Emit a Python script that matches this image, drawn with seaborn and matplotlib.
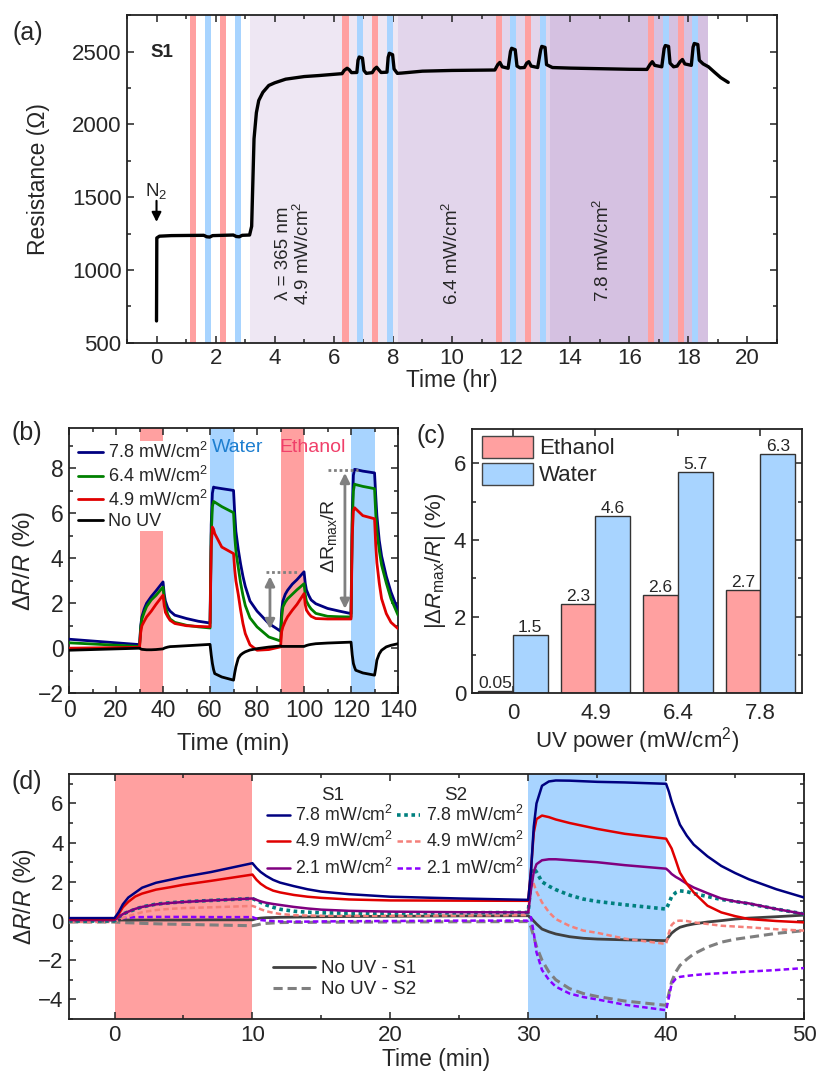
import numpy as np
import pandas as pd
import matplotlib
matplotlib.use("Agg")
import matplotlib.pyplot as plt
import seaborn as sns
from matplotlib.lines import Line2D
from matplotlib.patches import Patch
from matplotlib.ticker import MultipleLocator

# ---------------- Panel (a) data ----------------
A_TIME = [0, 0.01, 0.1, 0.5, 1.0, 1.6, 1.7, 1.8, 1.9, 2.6, 2.7, 2.8, 2.9, 3.15,
          3.22, 3.26, 3.3, 3.38, 3.46, 3.6, 3.8, 4.0, 4.37, 5.0, 5.5, 6.28,
          6.35, 6.45, 6.52, 6.6, 6.78, 6.82, 6.86, 6.97, 7.02, 7.1, 7.3,
          7.38, 7.45, 7.52, 7.6, 7.8, 7.84, 7.88, 7.99, 8.04, 8.15, 8.3, 9.0, 10.0, 11.0, 11.45,
          11.55, 11.62, 11.7, 11.9, 11.98, 12.02, 12.14, 12.2, 12.3, 12.45,
          12.53, 12.6, 12.68, 12.9, 13.0, 13.04, 13.15, 13.2, 13.4, 14.0, 15.0, 16.0, 16.6,
          16.7, 16.78, 16.86, 17.1, 17.18, 17.22, 17.33, 17.38, 17.5, 17.62,
          17.72, 17.8, 17.88, 18.1, 18.16, 18.2, 18.32, 18.37, 18.5, 18.68, 18.9, 19.1, 19.35]
A_RES = [650, 1220, 1232, 1236, 1237, 1238, 1228, 1226, 1236, 1240, 1230, 1228, 1238, 1240,
         1300, 1600, 1900, 2080, 2164, 2220, 2267, 2285, 2310, 2328, 2335, 2348,
         2370, 2385, 2375, 2355, 2356, 2440, 2462, 2455, 2370, 2350, 2355,
         2380, 2392, 2375, 2356, 2358, 2460, 2488, 2478, 2380, 2350, 2352, 2365, 2370, 2372, 2373,
         2410, 2425, 2395, 2385, 2500, 2522, 2512, 2400, 2388, 2390,
         2420, 2430, 2400, 2390, 2510, 2535, 2528, 2410, 2390, 2386, 2382, 2378, 2377,
         2410, 2430, 2405, 2395, 2520, 2541, 2535, 2420, 2395, 2400,
         2430, 2445, 2415, 2405, 2530, 2555, 2548, 2440, 2415, 2395, 2355, 2320, 2288]
A_ETHANOL_BANDS = [(1.12, 1.32), (2.14, 2.34), (6.28, 6.52), (7.30, 7.50),
                   (11.48, 11.68), (12.46, 12.67), (16.64, 16.84), (17.66, 17.86)]
A_WATER_BANDS = [(1.63, 1.83), (2.65, 2.85), (6.79, 6.99), (7.81, 8.01),
                 (11.95, 12.16), (12.97, 13.17), (17.15, 17.35), (18.13, 18.34)]
A_UV_REGIONS = [(3.16, 8.18), (8.18, 13.31), (13.31, 18.68)]

# ---------------- Panel (b) data ----------------
B_TIME = [0, 30,
          30.5, 31, 32, 33, 35, 37, 40,
          40.5, 41, 42, 43, 45, 50, 55, 60,
          60.5, 61, 61.5, 62, 65, 70,
          70.5, 71, 72, 73, 74, 75, 77, 80, 85, 90,
          90.5, 91, 92, 93, 95, 97, 100,
          100.5, 101, 102, 103, 105, 110, 115, 120,
          120.5, 121, 121.5, 122, 125, 130,
          130.5, 131, 132, 133, 135, 137, 140]
B_78 = [0.40, 0.16,
        1.0, 1.4, 1.75, 2.0, 2.3, 2.55, 2.95,
        2.4, 2.1, 1.8, 1.65, 1.47, 1.32, 1.2, 1.12,
        5.5, 6.9, 7.17, 7.15, 7.1, 7.02,
        6.0, 5.2, 4.4, 3.75, 3.2, 2.75, 2.1, 1.65, 1.1, 0.76,
        1.7, 2.1, 2.4, 2.58, 2.85, 3.05, 3.4,
        2.9, 2.6, 2.35, 2.15, 1.98, 1.77, 1.65, 1.54,
        6.0, 7.7, 7.96, 7.95, 7.88, 7.8,
        6.8, 5.9, 4.8, 4.1, 3.2, 2.5, 1.69]
B_64 = [0.24, 0.08,
        0.9, 1.3, 1.6, 1.85, 2.15, 2.35, 2.72,
        2.2, 1.85, 1.5, 1.3, 1.15, 1.02, 0.95, 0.9,
        5.0, 6.3, 6.53, 6.5, 6.3, 6.03,
        5.0, 4.3, 3.6, 2.9, 2.35, 1.9, 1.35, 0.95, 0.5, 0.32,
        1.4, 1.84, 2.05, 2.2, 2.4, 2.6, 2.87,
        2.4, 2.1, 1.9, 1.75, 1.55, 1.42, 1.4, 1.39,
        5.5, 7.0, 7.3, 7.28, 7.2, 7.1,
        6.0, 5.2, 4.36, 3.7, 2.9, 2.2, 1.47]
B_49 = [0.0, 0.04,
        0.7, 1.0, 1.2, 1.39, 1.65, 1.95, 2.36,
        1.9, 1.6, 1.4, 1.24, 1.1, 1.0, 0.97, 0.95,
        4.5, 5.39, 5.3, 5.1, 4.5, 4.21,
        3.5, 3.0, 2.4, 1.7, 1.1, 0.65, 0.15, -0.09, -0.06, 0.06,
        0.75, 0.95, 1.2, 1.4, 1.69, 1.95, 2.43,
        1.95, 1.7, 1.54, 1.42, 1.32, 1.3, 1.3, 1.3,
        5.0, 6.1, 6.25, 6.2, 5.9, 5.76,
        4.6, 3.8, 2.9, 2.2, 1.54, 1.15, 0.87]
B_NOUV = [-0.09, 0.0,
          -0.03, -0.05, -0.06, -0.07, -0.07, -0.06, -0.03,
          0.0, 0.02, 0.05, 0.07, 0.08, 0.11, 0.14, 0.17,
          -0.3, -0.68, -0.95, -1.13, -1.28, -1.42,
          -1.1, -0.83, -0.45, -0.3, -0.22, -0.16, -0.08, -0.02, 0.05, 0.1,
          0.08, 0.08, 0.08, 0.08, 0.08, 0.08, 0.08,
          0.1, 0.12, 0.15, 0.17, 0.2, 0.23, 0.25, 0.27,
          -0.3, -0.68, -0.85, -0.98, -1.1, -1.2,
          -0.9, -0.53, -0.25, -0.09, 0.06, 0.13, 0.2]
B_LABELS = ["7.8 mW/cm$^2$", "6.4 mW/cm$^2$", "4.9 mW/cm$^2$", "No UV"]
B_ETHANOL_BANDS = [(30, 40), (90, 100)]
B_WATER_BANDS = [(60, 70), (120, 130)]

# ---------------- Panel (c) data ----------------
C_POWER = ["0", "4.9", "6.4", "7.8"]
C_ETHANOL = [0.05, 2.33, 2.57, 2.70]
C_WATER = [1.52, 4.62, 5.77, 6.25]
C_ETHANOL_LABELS = ["0.05", "2.3", "2.6", "2.7"]
C_WATER_LABELS = ["1.5", "4.6", "5.7", "6.3"]

# ---------------- Panel (d) data ----------------
D_TIME = [-3.3, 0,
          0.3, 0.6, 1, 1.5, 2, 3, 4, 5, 7, 10,
          10.3, 10.6, 11, 11.5, 12, 13, 14, 15, 17, 20, 25, 30,
          30.2, 30.4, 30.6, 31, 31.5, 32, 33, 34, 35, 37, 40,
          40.2, 40.4, 40.7, 41, 41.5, 42, 43, 44, 45, 46, 48, 50]
D_S1_78 = [0.15, 0.15,
           0.45, 0.85, 1.2, 1.45, 1.7, 1.95, 2.1, 2.25, 2.5, 2.95,
           2.7, 2.5, 2.3, 2.1, 1.96, 1.78, 1.62, 1.5, 1.37, 1.24, 1.15, 1.08,
           2.5, 4.8, 6.0, 6.9, 7.12, 7.17, 7.16, 7.13, 7.1, 7.07, 7.0,
           6.6, 6.1, 5.5, 4.92, 4.35, 3.9, 3.3, 2.81, 2.45, 2.13, 1.62, 1.2]
D_S1_49 = [0.1, 0.1,
           0.35, 0.7, 0.98, 1.25, 1.4, 1.6, 1.72, 1.85, 2.05, 2.37,
           2.1, 1.9, 1.71, 1.55, 1.46, 1.33, 1.24, 1.18, 1.1, 1.05, 1.04, 1.03,
           2.6, 4.5, 5.2, 5.38, 5.3, 5.18, 5.0, 4.85, 4.7, 4.45, 4.2,
           3.95, 3.7, 3.1, 2.47, 1.9, 1.46, 0.78, 0.44, 0.25, 0.1, 0.0, -0.07]
D_S1_21 = [0.05, 0.05,
           0.2, 0.35, 0.48, 0.62, 0.72, 0.85, 0.92, 0.97, 1.05, 1.15,
           1.08, 1.0, 0.93, 0.87, 0.82, 0.72, 0.64, 0.58, 0.52, 0.48, 0.45, 0.44,
           1.6, 2.5, 2.9, 3.1, 3.15, 3.15, 3.1, 3.05, 3.0, 2.85, 2.67,
           2.55, 2.4, 2.25, 2.13, 1.9, 1.71, 1.42, 1.15, 1.0, 0.9, 0.61, 0.36]
D_S2_78 = [0.0, 0.0,
           0.2, 0.35, 0.47, 0.6, 0.72, 0.86, 0.93, 0.98, 1.05, 1.15,
           1.05, 0.95, 0.82, 0.7, 0.6, 0.5, 0.45, 0.42, 0.4, 0.4, 0.42, 0.44,
           2.0, 2.7, 2.5, 2.0, 1.78, 1.6, 1.32, 1.12, 1.0, 0.83, 0.61,
           0.9, 1.25, 1.45, 1.54, 1.5, 1.4, 1.25, 1.1, 1.0, 0.88, 0.61, 0.36]
D_S2_49 = [-0.05, -0.05,
           0.05, 0.15, 0.25, 0.35, 0.45, 0.56, 0.62, 0.66, 0.7, 0.77,
           0.7, 0.6, 0.5, 0.42, 0.36, 0.3, 0.28, 0.27, 0.27, 0.27, 0.28, 0.3,
           2.25, 1.9, 1.5, 0.95, 0.45, 0.1, -0.25, -0.49, -0.6, -0.9, -1.17,
           -0.6, -0.2, 0.0, 0.02, 0.0, -0.07, -0.15, -0.24, -0.28, -0.32, -0.42, -0.49]
D_S2_21 = [0.0, 0.0,
           0.1, 0.15, 0.17, 0.2, 0.2, 0.21, 0.21, 0.21, 0.2, 0.2,
           0.12, 0.05, 0.02, 0.0, -0.02, -0.03, -0.03, -0.02, -0.01, 0.0, 0.02, 0.02,
           0.2, -0.6, -1.6, -2.5, -3.0, -3.35, -3.7, -3.88, -4.0, -4.27, -4.55,
           -3.9, -3.2, -2.95, -2.85, -2.8, -2.76, -2.7, -2.66, -2.62, -2.58, -2.5, -2.4]
D_NOUV_S1 = [0.05, 0.05,
             0.05, 0.05, 0.05, 0.05, 0.05, 0.05, 0.05, 0.05, 0.06, 0.06,
             0.12, 0.15, 0.17, 0.18, 0.19, 0.2, 0.21, 0.22, 0.23, 0.24, 0.26, 0.27,
             0.15, 0.0, -0.15, -0.41, -0.55, -0.66, -0.8, -0.88, -0.92, -0.96, -1.0,
             -0.8, -0.62, -0.45, -0.32, -0.22, -0.15, -0.05, 0.02, 0.1, 0.15, 0.22, 0.3]
D_NOUV_S2 = [-0.05, -0.05,
             -0.06, -0.08, -0.09, -0.1, -0.12, -0.14, -0.16, -0.17, -0.2, -0.24,
             -0.2, -0.15, -0.12, -0.1, -0.08, -0.07, -0.07, -0.06, -0.06, -0.05, -0.04, -0.03,
             -0.3, -0.8, -1.3, -2.0, -2.6, -3.0, -3.45, -3.7, -3.85, -4.08, -4.3,
             -3.7, -3.1, -2.6, -2.27, -1.95, -1.68, -1.33, -1.08, -0.93, -0.83, -0.63, -0.49]
D_POWER_LABELS = ["7.8 mW/cm$^2$", "4.9 mW/cm$^2$", "2.1 mW/cm$^2$"]
D_ETHANOL_BAND = (0, 10)
D_WATER_BAND = (30, 40)

# ---------------- styling ----------------
ETH_C = "#FFA0A0"
WAT_C = "#A8D4FF"
UV_COLORS = ["#EEE7F3", "#E2D5EB", "#D5C1E1"]

sns.set_theme(style="ticks")
plt.rcParams['font.family'] = ['Liberation Sans', 'DejaVu Sans']
plt.rcParams['mathtext.fontset'] = 'custom'
plt.rcParams['mathtext.rm'] = 'Liberation Sans'
plt.rcParams['mathtext.it'] = 'Liberation Sans:italic'
plt.rcParams['mathtext.bf'] = 'Liberation Sans:bold'
plt.rcParams['axes.linewidth'] = 1.3
plt.rcParams['axes.edgecolor'] = '#222222'

fig = plt.figure(figsize=(8.16, 10.78), dpi=100)


def style_axes(ax, fs):
    ax.tick_params(which='both', direction='in', top=True, right=True,
                   labelsize=fs, color='#222222', width=1.1, pad=4)
    ax.tick_params(which='major', length=5)
    ax.tick_params(which='minor', length=3)
    for s in ax.spines.values():
        s.set_linewidth(1.3)
        s.set_color('#222222')


def draw(ax, x, y, **kw):
    sns.lineplot(x=x, y=y, ax=ax, estimator=None, sort=False, **kw)
    return ax.lines[-1]


# ================= Panel (a) =================
axA = fig.add_axes([0.1556, 0.682, 0.7966, 0.304])
for (s, e), c in zip(A_UV_REGIONS, UV_COLORS):
    axA.axvspan(s, e, color=c, lw=0, zorder=0)
for s, e in A_ETHANOL_BANDS:
    axA.axvspan(s, e, color=ETH_C, lw=0, zorder=1)
for s, e in A_WATER_BANDS:
    axA.axvspan(s, e, color=WAT_C, lw=0, zorder=1)
draw(axA, A_TIME, A_RES, color='black', linewidth=2.4, zorder=3)
axA.set_xlim(-1, 21)
axA.set_ylim(500, 2750)
axA.xaxis.set_major_locator(MultipleLocator(2))
axA.xaxis.set_minor_locator(MultipleLocator(1))
axA.yaxis.set_major_locator(MultipleLocator(500))
axA.yaxis.set_minor_locator(MultipleLocator(250))
style_axes(axA, 16)
axA.set_xlabel("Time (hr)", fontsize=16.5, labelpad=0)
axA.set_ylabel("Resistance (Ω)", fontsize=16.5, labelpad=16)
axA.text(-0.2, 2490, "S1", fontsize=13.5, fontweight='bold', va='center', ha='left')
axA.text(0.0, 1545, "N$_2$", fontsize=13.5, ha='center', va='center')
axA.annotate("", xy=(0.0, 1330), xytext=(0.0, 1475),
             arrowprops=dict(arrowstyle='-|>', color='black', lw=1.5,
                             mutation_scale=14, shrinkA=0, shrinkB=0))
axA.text(4.65, 1116, "λ = 365 nm\n4.9 mW/cm$^2$", rotation=90, fontsize=13.5,
         ha='center', va='center', linespacing=1.1)
axA.text(10.0, 1116, "6.4 mW/cm$^2$", rotation=90, fontsize=13.5, ha='center', va='center')
axA.text(15.1, 1137, "7.8 mW/cm$^2$", rotation=90, fontsize=13.5, ha='center', va='center')

# ================= Panel (b) =================
axB = fig.add_axes([0.0846, 0.357, 0.4032, 0.246])
for s, e in B_ETHANOL_BANDS:
    axB.axvspan(s, e, color=ETH_C, lw=0, zorder=0)
for s, e in B_WATER_BANDS:
    axB.axvspan(s, e, color=WAT_C, lw=0, zorder=0)
b_colors = ["#000080", "#008000", "#E00000", "black"]
b_handles = []
for ys, c, lab in zip([B_78, B_64, B_49, B_NOUV], b_colors, B_LABELS):
    draw(axB, B_TIME, ys, color=c, linewidth=2.0, zorder=3)
    b_handles.append(Line2D([0], [0], color=c, lw=2.0, label=lab))
axB.set_xlim(0, 140)
axB.set_ylim(-2, 9.8)
axB.xaxis.set_major_locator(MultipleLocator(20))
axB.xaxis.set_minor_locator(MultipleLocator(10))
axB.yaxis.set_major_locator(MultipleLocator(2))
axB.yaxis.set_minor_locator(MultipleLocator(1))
style_axes(axB, 16.5)
axB.set_xlabel("Time (min)", fontsize=17, labelpad=8)
axB.set_ylabel("Δ$R$/$R$ (%)", fontsize=17, labelpad=0)
legB = axB.legend(handles=b_handles, loc='upper left', bbox_to_anchor=(0.025, 0.95),
                  fontsize=13, frameon=True, facecolor='white', edgecolor='none',
                  framealpha=1, fancybox=False, borderpad=0.05, labelspacing=0.2,
                  handlelength=1.35, handletextpad=0.3, borderaxespad=0)
legB.set_zorder(5)
axB.text(71.7, 8.93, "Water", color="#1E7FD0", fontsize=14, ha='center', va='center')
axB.text(103.8, 8.93, "Ethanol", color="#F0406A", fontsize=14, ha='center', va='center')
# delta R max annotations
ARROW_GRAY = "#808080"
axB.plot([84, 97], [3.4, 3.4], linestyle=(0, (1, 1)), color=ARROW_GRAY, lw=2, zorder=4)
axB.annotate("", xy=(85.5, 3.2), xytext=(85.5, 0.85),
             arrowprops=dict(arrowstyle='<|-|>', color=ARROW_GRAY, lw=2, mutation_scale=14,
                             shrinkA=0, shrinkB=0), zorder=4)
axB.plot([110, 123], [7.95, 7.95], linestyle=(0, (1, 1)), color=ARROW_GRAY, lw=2, zorder=4)
axB.annotate("", xy=(117.4, 7.8), xytext=(117.4, 1.75),
             arrowprops=dict(arrowstyle='<|-|>', color=ARROW_GRAY, lw=2, mutation_scale=14,
                             shrinkA=0, shrinkB=0), zorder=4)
axB.text(110.5, 5.0, "ΔR$_{\\mathrm{max}}$/R", rotation=90, fontsize=14,
         ha='center', va='center')

# ================= Panel (c) =================
axC = fig.add_axes([0.578, 0.357, 0.4044, 0.245])
dfC = pd.DataFrame({
    "power": C_POWER + C_POWER,
    "solvent": ["Ethanol"] * len(C_POWER) + ["Water"] * len(C_POWER),
    "value": C_ETHANOL + C_WATER,
})
sns.barplot(data=dfC, x="power", y="value", hue="solvent", order=C_POWER,
            hue_order=["Ethanol", "Water"], palette={"Ethanol": ETH_C, "Water": WAT_C},
            width=0.84, edgecolor="#333333", linewidth=1.0, saturation=1,
            ax=axC, legend=False)
axC.bar_label(axC.containers[0], labels=C_ETHANOL_LABELS, fontsize=12.5, padding=0)
axC.bar_label(axC.containers[1], labels=C_WATER_LABELS, fontsize=12.5, padding=0)
axC.set_xlim(-0.5, 3.5)
axC.set_ylim(0, 6.9)
axC.yaxis.set_major_locator(MultipleLocator(2))
axC.yaxis.set_minor_locator(MultipleLocator(1))
style_axes(axC, 16)
axC.tick_params(axis='x', which='minor', top=False, bottom=False)
axC.tick_params(axis='x', which='major', pad=7)
axC.set_xlabel("UV power (mW/cm$^2$)", fontsize=16, labelpad=1)
axC.set_ylabel("|Δ$R_{\\mathrm{max}}$/$R$| (%)", fontsize=16, labelpad=4)
c_handles = [Patch(facecolor=ETH_C, edgecolor="#444444", lw=1.0, label="Ethanol"),
             Patch(facecolor=WAT_C, edgecolor="#444444", lw=1.0, label="Water")]
axC.legend(handles=c_handles, loc='upper left', bbox_to_anchor=(0.03, 0.975), fontsize=16,
           frameon=False, borderpad=0, borderaxespad=0, handlelength=2.3, handleheight=1.15,
           labelspacing=0.15, handletextpad=0.3)

# ================= Panel (d) =================
axD = fig.add_axes([0.0846, 0.0547, 0.9007, 0.2273])
axD.axvspan(*D_ETHANOL_BAND, color=ETH_C, lw=0, zorder=0)
axD.axvspan(*D_WATER_BAND, color=WAT_C, lw=0, zorder=0)
d_specs = [
    (D_NOUV_S2, "#7F7F7F", (0, (3, 1.6)), 2.2),
    (D_NOUV_S1, "#404040", '-', 2.0),
    (D_S2_21, "#8A00FF", (0, (2.2, 1.3)), 1.8),
    (D_S2_49, "#F4807A", (0, (2.2, 1.3)), 1.8),
    (D_S2_78, "#00807F", (0, (1, 1)), 2.6),
    (D_S1_21, "#800080", '-', 1.8),
    (D_S1_49, "#E00000", '-', 1.8),
    (D_S1_78, "#000080", '-', 1.8),
]
for ys, c, ls, lw in d_specs:
    draw(axD, D_TIME, ys, color=c, linestyle=ls, linewidth=lw, zorder=3)
axD.set_xlim(-3.3, 50)
axD.set_ylim(-5, 7.5)
axD.xaxis.set_major_locator(MultipleLocator(10))
axD.xaxis.set_minor_locator(MultipleLocator(5))
axD.yaxis.set_major_locator(MultipleLocator(2))
axD.yaxis.set_minor_locator(MultipleLocator(1))
style_axes(axD, 16)
axD.set_xlabel("Time (min)", fontsize=16.5, labelpad=2)
axD.set_ylabel("Δ$R$/$R$ (%)", fontsize=16.5, labelpad=0)


def mk(c, ls, lw):
    return Line2D([0], [0], color=c, linestyle=ls, lw=lw)


leg_kw = dict(loc='upper left', fontsize=12.8, frameon=False, borderpad=0, borderaxespad=0,
              handlelength=1.3, handletextpad=0.3, labelspacing=0.36)
h_s1 = [mk("#000080", '-', 1.8), mk("#E00000", '-', 1.8), mk("#800080", '-', 1.8)]
h_s2 = [mk("#00807F", (0, (1, 1)), 2.6), mk("#F4807A", (0, (2.2, 1.3)), 1.8),
        mk("#8A00FF", (0, (2.2, 1.3)), 1.8)]
legS1 = axD.legend(handles=h_s1, labels=D_POWER_LABELS, bbox_to_anchor=(0.2694, 0.875), **leg_kw)
axD.add_artist(legS1)
legS2 = axD.legend(handles=h_s2, labels=D_POWER_LABELS, bbox_to_anchor=(0.4465, 0.875), **leg_kw)
axD.add_artist(legS2)
axD.text(0.359, 0.912, "S1", transform=axD.transAxes, fontsize=13.5, ha='center', va='center')
axD.text(0.526, 0.912, "S2", transform=axD.transAxes, fontsize=13.5, ha='center', va='center')
h2 = [mk("#404040", '-', 2.0), mk("#7F7F7F", (0, (3, 1.6)), 2.2)]
axD.legend(handles=h2, labels=["No UV - S1", "No UV - S2"], loc='upper left',
           bbox_to_anchor=(0.278, 0.24), fontsize=13.5, frameon=False, borderpad=0,
           borderaxespad=0, handlelength=2.2, handletextpad=0.35, labelspacing=0.2)

# panel labels
fig.text(0.015, 0.969, "(a)", fontsize=18, va='center', ha='left')
fig.text(0.014, 0.598, "(b)", fontsize=18, va='center', ha='left')
fig.text(0.511, 0.596, "(c)", fontsize=18, va='center', ha='left')
fig.text(0.014, 0.275, "(d)", fontsize=18, va='center', ha='left')

fig.savefig("out.png", dpi=100)
